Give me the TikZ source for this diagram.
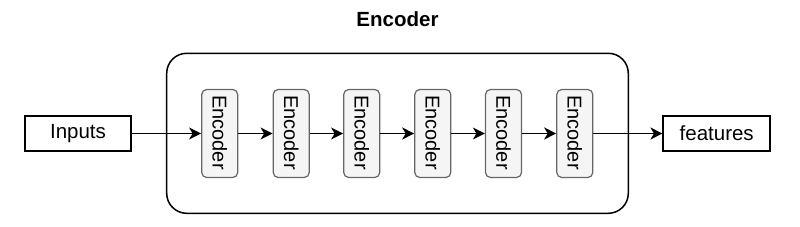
\documentclass[tikz,border=0pt]{standalone}
\usepackage{fontspec}
\setmainfont{Liberation Sans}
\usetikzlibrary{arrows.meta}
\definecolor{encfill}{HTML}{F5F5F5}
\definecolor{encdraw}{HTML}{666666}
\begin{document}
\begin{tikzpicture}[x=1pt,y=1pt,
  iobox/.style={draw=black, line width=1.5pt, fill=white, minimum width=106pt, minimum height=35pt, inner sep=0pt, font=\fontsize{20.5}{23}\selectfont},
  encbox/.style={draw=encdraw, line width=1.2pt, fill=encfill, rounded corners=5pt, minimum width=36pt, minimum height=88pt, inner sep=0pt},
  enclabel/.style={rotate=-90, font=\fontsize{20}{23}\selectfont, inner sep=0pt},
  outerbox/.style={draw=black, line width=1.5pt, rounded corners=20pt, minimum width=461.6pt, minimum height=160pt, inner sep=0pt},
  conn/.style={draw=black, line width=1.5pt, -{Stealth[length=12pt,width=12pt,inset=3.5pt]}}
]
\useasboundingbox (0,0) rectangle (800,-227);
\node[outerbox] (outer) at (397.5,-133.3) {};
\node[font=\bfseries\fontsize{20.5}{23}\selectfont, inner sep=0pt] (title) at (397.5,-19) {Encoder};
\node[iobox] (inp) at (78,-133.5) {Inputs};
\node[iobox, minimum width=107pt] (feat) at (716.7,-133.5) {features};
\foreach \i/\x in {1/219.7,2/291.2,3/361.7,4/432.8,5/503.5,6/574.8}{
  \node[encbox] (e\i) at (\x,-133.5) {};
  \node[enclabel] (l\i) at (\x,-132.5) {Encoder};
}
\draw[conn] (inp) -- (e1);
\draw[conn] (e1) -- (e2);
\draw[conn] (e2) -- (e3);
\draw[conn] (e3) -- (e4);
\draw[conn] (e4) -- (e5);
\draw[conn] (e5) -- (e6);
\draw[conn] (e6) -- (feat);
\end{tikzpicture}
\end{document}
